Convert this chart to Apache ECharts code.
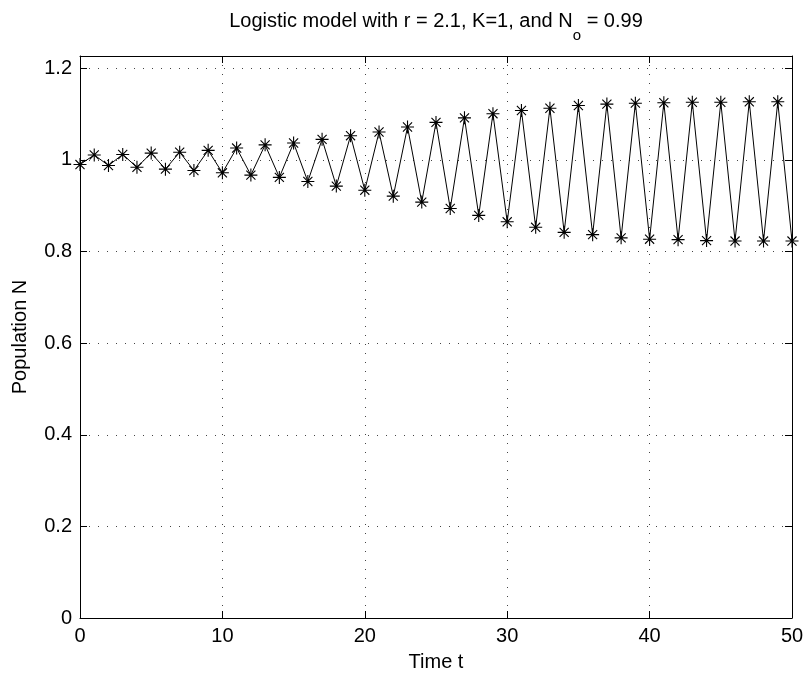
<!DOCTYPE html>
<html>
<head>
<meta charset="utf-8">
<title>Logistic model</title>
<script src="https://cdn.jsdelivr.net/npm/echarts@6/dist/echarts.min.js"></script>
<style>
  html, body { margin: 0; padding: 0; background: #fff; }
  #main { width: 809px; height: 679px; }
</style>
</head>
<body>
<div id="main"></div>
<script>
// time steps
var timeT = [0, 1, 2, 3, 4, 5, 6, 7, 8, 9,
  10, 11, 12, 13, 14, 15, 16, 17, 18, 19,
  20, 21, 22, 23, 24, 25, 26, 27, 28, 29,
  30, 31, 32, 33, 34, 35, 36, 37, 38, 39,
  40, 41, 42, 43, 44, 45, 46, 47, 48, 49, 50]

// population
var population = [0.990, 1.011, 0.988, 1.012, 0.984, 1.015, 0.980, 1.017, 0.977, 1.021,
  0.972, 1.026, 0.967, 1.033, 0.962, 1.037, 0.953, 1.045, 0.943, 1.053,
  0.934, 1.061, 0.921, 1.072, 0.908, 1.082, 0.894, 1.092, 0.879, 1.101,
  0.865, 1.108, 0.853, 1.113, 0.842, 1.119, 0.837, 1.122, 0.830, 1.124,
  0.827, 1.125, 0.826, 1.126, 0.824, 1.126, 0.823, 1.127, 0.823, 1.127, 0.823]

var xTicks = [0, 10, 20, 30, 40, 50]
var yTicks = [0, 0.2, 0.4, 0.6, 0.8, 1, 1.2]

var FONT = 'Liberation Sans, Arial, Helvetica, sans-serif'
var yMax = 1.227

var pairs = timeT.map(function (t, i) { return [t, population[i]] })

// matlab style asterisk marker
var star = 'path://M0,5L10,5M5,0L5,10M1.5,1.5L8.5,8.5M1.5,8.5L8.5,1.5'

var dotted = { color: '#444', width: 1, type: [1, 8] }

var chart = echarts.init(document.getElementById('main'), null, { renderer: 'canvas' })

var option = {
  animation: false,
  backgroundColor: '#fff',
  title: {
    text: 'Logistic model with r = 2.1, K=1, and N{sub|o} = 0.99',
    left: 436,
    top: 0,
    padding: 0,
    textAlign: 'center',
    textStyle: {
      fontFamily: FONT,
      fontSize: 20,
      fontWeight: 'normal',
      color: '#000',
      rich: {
        sub: { fontFamily: FONT, fontSize: 15, color: '#000', padding: [28, 0, 0, 0] }
      }
    }
  },
  grid: { left: 80, right: 17, top: 56, bottom: 61, containLabel: false },
  xAxis: [{
    type: 'value',
    position: 'bottom',
    min: xTicks[0],
    max: xTicks[xTicks.length - 1],
    interval: 10,
    name: 'Time t',
    nameLocation: 'middle',
    nameGap: 34,
    nameTextStyle: { fontFamily: FONT, fontSize: 20, color: '#000' },
    axisLine: { show: true, onZero: false, lineStyle: { color: '#000', width: 1 } },
    axisTick: { inside: true, length: 7, lineStyle: { color: '#000' } },
    axisLabel: { fontFamily: FONT, fontSize: 20, color: '#000', margin: 8 },
    splitLine: { show: true, lineStyle: dotted }
  }, {
    type: 'value',
    position: 'top',
    min: xTicks[0],
    max: xTicks[xTicks.length - 1],
    interval: 10,
    axisLine: { show: true, onZero: false, lineStyle: { color: '#000', width: 1 } },
    axisTick: { inside: true, length: 7, lineStyle: { color: '#000' } },
    axisLabel: { show: false },
    splitLine: { show: false }
  }],
  yAxis: [{
    type: 'value',
    position: 'left',
    min: yTicks[0],
    max: yMax,
    interval: 0.2,
    name: 'Population N',
    nameLocation: 'middle',
    nameGap: 50,
    nameTextStyle: { fontFamily: FONT, fontSize: 20, color: '#000' },
    axisLine: { show: true, onZero: false, lineStyle: { color: '#000', width: 1 } },
    axisTick: { inside: true, length: 7, lineStyle: { color: '#000' } },
    axisLabel: {
      fontFamily: FONT, fontSize: 20, color: '#000', margin: 8,
      showMaxLabel: false,
      formatter: function (v) {
        var r = Math.round(v * 10) / 10
        return yTicks.indexOf(r) >= 0 ? String(r) : ''
      }
    },
    splitLine: { show: true, lineStyle: dotted }
  }, {
    type: 'value',
    position: 'right',
    min: yTicks[0],
    max: yMax,
    interval: 0.2,
    axisLine: { show: true, onZero: false, lineStyle: { color: '#000', width: 1 } },
    axisTick: { inside: true, length: 7, lineStyle: { color: '#000' } },
    axisLabel: { show: false },
    splitLine: { show: false }
  }],
  series: [{
    type: 'line',
    xAxisIndex: 0,
    yAxisIndex: 0,
    data: pairs,
    clip: false,
    symbol: star,
    symbolSize: 13,
    showAllSymbol: true,
    lineStyle: { color: '#000', width: 1 },
    itemStyle: { color: '#000', borderColor: '#000', borderWidth: 1.1 },
    emphasis: { disabled: true }
  }]
}

chart.setOption(option)
</script>
</body>
</html>
